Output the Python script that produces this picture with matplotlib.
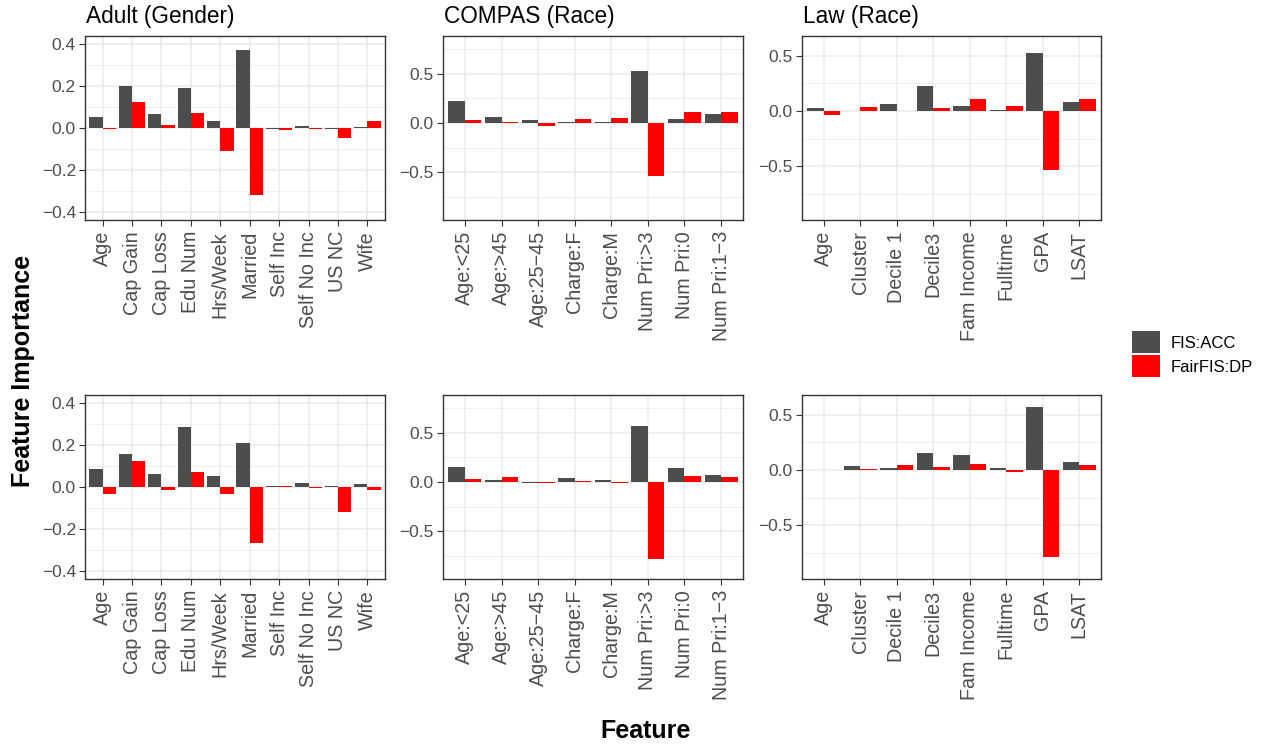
import matplotlib
matplotlib.use("Agg")
import matplotlib.pyplot as plt
from matplotlib.patches import Patch
from matplotlib.ticker import FixedLocator, FuncFormatter
import numpy as np

plt.rcParams['font.family'] = ['Liberation Sans', 'DejaVu Sans']
plt.rcParams['axes.unicode_minus'] = True

# ---------------- data ----------------
adult_features = ["Age", "Cap Gain", "Cap Loss", "Edu Num", "Hrs/Week", "Married",
                  "Self Inc", "Self No Inc", "US NC", "Wife"]
adult_top_acc = [0.053, 0.201, 0.067, 0.191, 0.035, 0.373, -0.003, 0.010, -0.003, 0.005]
adult_top_dp = [-0.003, 0.124, 0.014, 0.072, -0.110, -0.320, -0.010, -0.004, -0.048, 0.035]
adult_bot_acc = [0.085, 0.157, 0.061, 0.286, 0.051, 0.210, 0.003, 0.018, 0.003, 0.013]
adult_bot_dp = [-0.034, 0.123, -0.014, 0.070, -0.034, -0.269, 0.003, -0.005, -0.120, -0.014]

compas_features = ["Age:<25", "Age:>45", "Age:25\u221245", "Charge:F", "Charge:M",
                   "Num Pri:>3", "Num Pri:0", "Num Pri:1\u22123"]
compas_top_acc = [0.224, 0.061, 0.031, 0.009, 0.009, 0.531, 0.041, 0.092]
compas_top_dp = [0.031, 0.010, -0.031, 0.041, 0.051, -0.541, 0.112, 0.112]
compas_bot_acc = [0.153, 0.020, -0.005, 0.041, 0.020, 0.571, 0.143, 0.071]
compas_bot_dp = [0.031, 0.051, -0.005, 0.010, -0.005, -0.786, 0.061, 0.051]

law_features = ["Age", "Cluster", "Decile 1", "Decile3", "Fam Income", "Fulltime", "GPA", "LSAT"]
law_top_acc = [0.027, 0.003, 0.063, 0.226, 0.045, 0.009, 0.524, 0.081]
law_top_dp = [-0.036, 0.036, 0.003, 0.027, 0.108, 0.045, -0.533, 0.108]
law_bot_acc = [-0.003, 0.036, 0.018, 0.154, 0.136, 0.018, 0.569, 0.072]
law_bot_dp = [-0.003, 0.009, 0.045, 0.027, 0.054, -0.018, -0.783, 0.045]

panel_titles = ["Adult (Gender)", "COMPAS (Race)", "Law (Race)"]
series_labels = ["FIS:ACC", "FairFIS:DP"]

# ---------------- style ----------------
COL_ACC = "#4D4D4D"
COL_DP = "#FF0000"
GRID = "#EBEBEB"
BORDER = "#333333"
TICKTXT = "#4D4D4D"

W, H = 1265, 744
fig = plt.figure(figsize=(W / 100, H / 100), dpi=100)

col_x = [85, 443, 802]
col_w = [300, 300, 299]
row_y = [36, 395]
ph = 184

panels = [
    [(adult_features, adult_top_acc, adult_top_dp),
     (compas_features, compas_top_acc, compas_top_dp),
     (law_features, law_top_acc, law_top_dp)],
    [(adult_features, adult_bot_acc, adult_bot_dp),
     (compas_features, compas_bot_acc, compas_bot_dp),
     (law_features, law_bot_acc, law_bot_dp)],
]
ylims = [(-0.44, 0.44), (-0.985, 0.885), (-0.985, 0.678)]
yticks = [[-0.4, -0.2, 0.0, 0.2, 0.4], [-0.5, 0.0, 0.5], [-0.5, 0.0, 0.5]]
yminor = [[-0.3, -0.1, 0.1, 0.3], [-0.75, -0.25, 0.25, 0.75], [-0.75, -0.25, 0.25, 0.75]]

fmt = FuncFormatter(lambda v, p: ("%.1f" % v).replace("-", "\u2212"))

for r in range(2):
    for c in range(3):
        feats, acc, dp = panels[r][c]
        ax = fig.add_axes([col_x[c] / W, 1 - (row_y[r] + ph) / H, col_w[c] / W, ph / H])
        n = len(feats)
        x = np.arange(1, n + 1)
        ax.set_xlim(0.4, n + 0.6)
        ax.set_ylim(*ylims[c])
        ax.set_axisbelow(True)
        # grid
        ax.yaxis.set_major_locator(FixedLocator(yticks[c]))
        ax.yaxis.set_minor_locator(FixedLocator(yminor[c]))
        ax.grid(True, which='major', color=GRID, linewidth=1.1)
        ax.grid(True, which='minor', axis='y', color=GRID, linewidth=0.55)
        ax.bar(x - 0.225, acc, width=0.45, color=COL_ACC, linewidth=0, label=series_labels[0])
        ax.bar(x + 0.225, dp, width=0.45, color=COL_DP, linewidth=0, label=series_labels[1])
        ax.set_xticks(x)
        ax.set_xticklabels(feats, rotation=90, ha='center', va='top',
                           fontsize=14.2, color=TICKTXT)
        ax.yaxis.set_major_formatter(fmt)
        ax.tick_params(axis='y', which='major', labelsize=12.5, labelcolor=TICKTXT,
                       color=BORDER, length=4, width=0.8, pad=2.5)
        ax.tick_params(axis='y', which='minor', length=0)
        ax.tick_params(axis='x', color=BORDER, length=4, width=0.8, pad=4)
        for s in ax.spines.values():
            s.set_color(BORDER)
            s.set_linewidth(1.0)
        if r == 0:
            fig.text((col_x[c] + 1) / W, 1 - 23 / H, panel_titles[c],
                     fontsize=16.3, color='black', ha='left', va='baseline')

fig.text(646 / W, 1 - 731 / H, "Feature", fontsize=18, fontweight='bold',
         ha='center', va='center')
fig.text(23 / W, 1 - 371 / H, "Feature Importance", fontsize=18, fontweight='bold',
         rotation=90, ha='center', va='center')

handles = [Patch(facecolor=COL_ACC, edgecolor='none'), Patch(facecolor=COL_DP, edgecolor='none')]
fig.legend(handles, series_labels, loc='upper left',
           bbox_to_anchor=(1132 / W, 1 - 331 / H), frameon=False, fontsize=12,
           handlelength=1.68, handleheight=1.68, handletextpad=0.65,
           labelspacing=0.1, borderpad=0, borderaxespad=0)

fig.savefig("out.png", dpi=100)
